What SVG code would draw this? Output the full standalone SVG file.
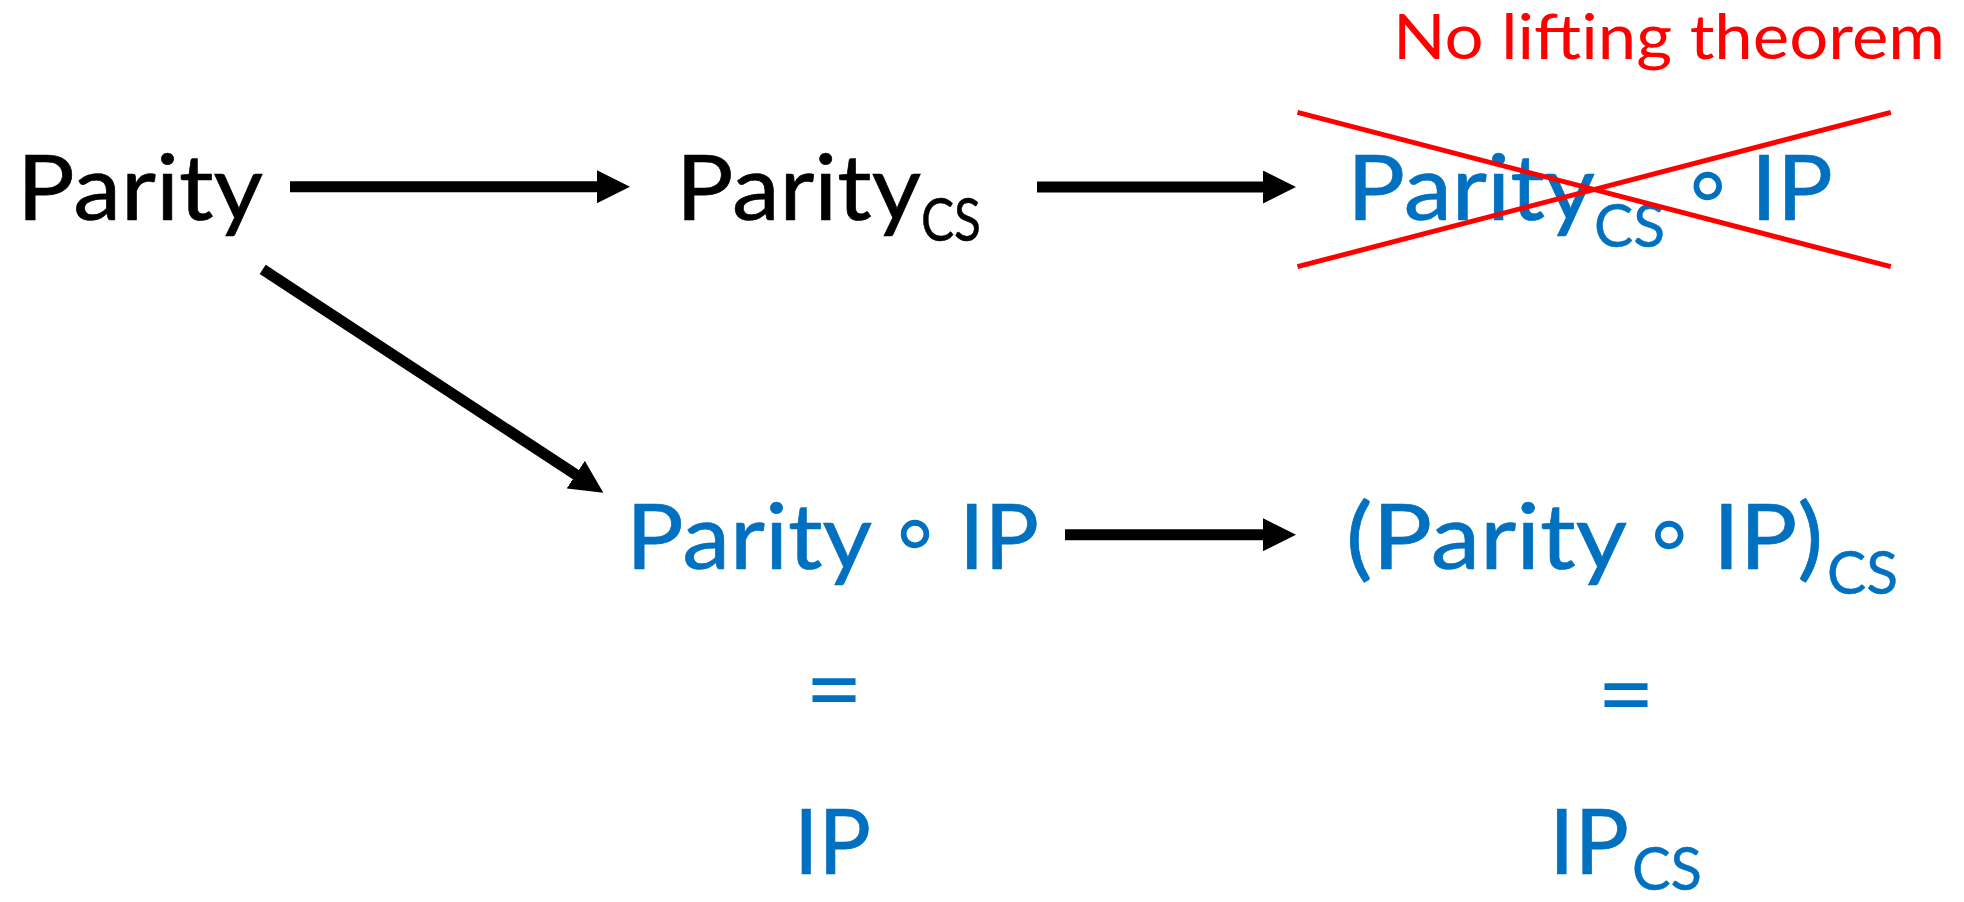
<svg xmlns="http://www.w3.org/2000/svg" width="1964" height="902" viewBox="0 0 1964 902">
  <style>
    .t { font-family: Lato, "Open Sans", "DejaVu Sans", sans-serif; font-size: 92px; stroke-width: 0.7; }
    .sub { font-family: Lato, "Open Sans", "DejaVu Sans", sans-serif; font-size: 60px; stroke-width: 0.5; }
    .eq { font-family: Lato, "Open Sans", "DejaVu Sans", sans-serif; font-size: 100px; text-anchor: middle; }
    .ring { font-family: "DejaVu Sans", sans-serif; font-size: 92px; text-anchor: middle; }
    .blk { fill: #000000; stroke: #000000; }
    .blu { fill: #0070C0; stroke: #0070C0; }
    .ring.blu, .eq.blu { stroke: none; }
    .red { fill: #FF0000; }
    .edge { stroke: #000000; stroke-width: 11; fill: none; }
    .cross { stroke: #FF0000; stroke-width: 5; fill: none; }
  </style>
  <defs>
    <marker id="head" markerUnits="userSpaceOnUse" viewBox="0 0 33 33" markerWidth="33" markerHeight="33" refX="1" refY="16.5" orient="auto">
      <path d="M0,0 L33,16.5 L0,33 Z" fill="#000000"/>
    </marker>
  </defs>

  <rect width="1964" height="902" fill="#FFFFFF"/>

  <!-- connectors -->
  <g id="connectors">
    <line class="edge" x1="290" y1="186.7" x2="598" y2="186.7" marker-end="url(#head)"/>
    <line class="edge" x1="1037" y1="187" x2="1264" y2="187" marker-end="url(#head)"/>
    <line class="edge" x1="262.7" y1="269.3" x2="576.6" y2="475.2" marker-end="url(#head)"/>
    <line class="edge" x1="1065" y1="534.7" x2="1264" y2="534.7" marker-end="url(#head)"/>
  </g>

  <!-- Parity -->
  <g id="node-parity">
    <text class="t blk" x="17" y="220" textLength="246" lengthAdjust="spacingAndGlyphs">Parity</text>
  </g>

  <!-- Parity_CS -->
  <g id="node-parity-cs">
    <text class="t blk" x="676" y="220" textLength="245" lengthAdjust="spacingAndGlyphs">Parity</text>
    <text class="sub blk" x="921" y="241" textLength="60" lengthAdjust="spacingAndGlyphs">CS</text>
  </g>

  <!-- Parity_CS ∘ IP, struck through -->
  <g id="node-parity-cs-ip">
    <text class="t blu" x="1347" y="220" textLength="248" lengthAdjust="spacingAndGlyphs">Parity</text>
    <text class="sub blu" x="1594" y="247" textLength="71" lengthAdjust="spacingAndGlyphs">CS</text>
    <text class="ring blu" x="1707.7" y="215">∘</text>
    <text class="t blu" x="1751" y="220" textLength="82" lengthAdjust="spacingAndGlyphs">IP</text>
    <line class="cross" x1="1297.5" y1="112.3" x2="1890.8" y2="266.7"/>
    <line class="cross" x1="1297.5" y1="266.7" x2="1890.8" y2="112.3"/>
  </g>

  <g id="label-no-lifting">
    <text class="red" x="1393" y="59" font-family="Lato, 'Open Sans', sans-serif" font-size="62" textLength="552" lengthAdjust="spacingAndGlyphs">No lifting theorem</text>
  </g>

  <!-- Parity ∘ IP = IP -->
  <g id="node-parity-ip">
    <text class="t blu" x="626" y="569" textLength="246" lengthAdjust="spacingAndGlyphs">Parity</text>
    <text class="ring blu" x="915" y="563">∘</text>
    <text class="t blu" x="959" y="569" textLength="80" lengthAdjust="spacingAndGlyphs">IP</text>
    <text class="eq blu" x="834" y="724">=</text>
    <text class="t blu" x="794" y="874" textLength="77" lengthAdjust="spacingAndGlyphs">IP</text>
  </g>

  <!-- (Parity ∘ IP)_CS = IP_CS -->
  <g id="node-parity-ip-cs">
    <text class="t blu" x="1346" y="569" textLength="281" lengthAdjust="spacingAndGlyphs">(Parity</text>
    <text class="ring blu" x="1669.3" y="564">∘</text>
    <text class="t blu" x="1713" y="569" textLength="110" lengthAdjust="spacingAndGlyphs">IP)</text>
    <text class="sub blu" x="1827" y="594" textLength="71" lengthAdjust="spacingAndGlyphs">CS</text>
    <text class="eq blu" x="1626" y="729">=</text>
    <text class="t blu" x="1549" y="874" textLength="80" lengthAdjust="spacingAndGlyphs">IP</text>
    <text class="sub blu" x="1632" y="890" textLength="70" lengthAdjust="spacingAndGlyphs">CS</text>
  </g>
</svg>
